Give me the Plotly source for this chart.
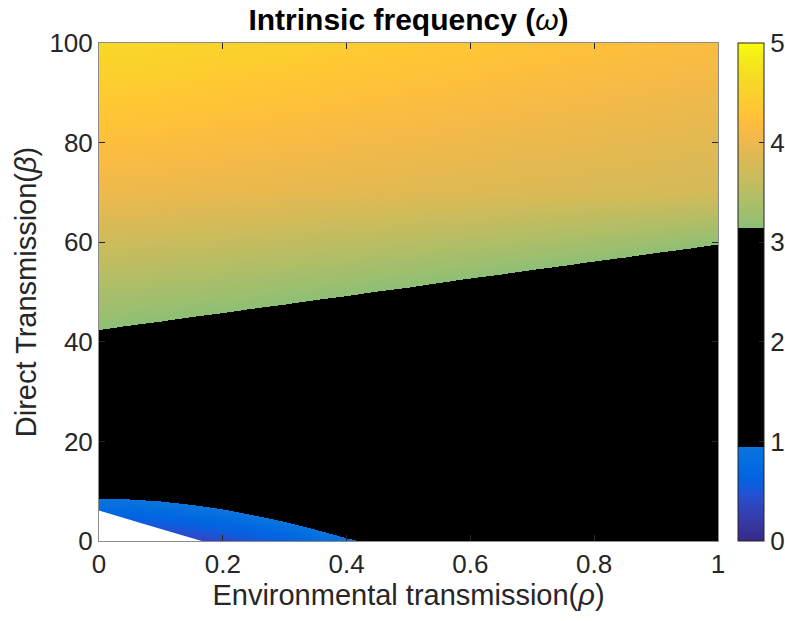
import numpy as np
import plotly.graph_objects as go

# ---------------- data ----------------
rho = [0.00, 0.05, 0.10, 0.15, 0.20, 0.25, 0.30, 0.35, 0.40, 0.45, 0.50,
       0.55, 0.60, 0.65, 0.70, 0.75, 0.80, 0.85, 0.90, 0.95, 1.00]
# beta where the black region meets the coloured upper region (omega ~ 3.14)
beta_green_edge = [42.5, 43.4, 44.2, 45.1, 45.9, 46.8, 47.6, 48.5, 49.3, 50.2, 51.0,
                   51.9, 52.8, 53.6, 54.5, 55.3, 56.2, 57.0, 57.9, 58.7, 59.6]
omega_at_70 = [4.02, 4.01, 4.00, 3.98, 3.97, 3.96, 3.94, 3.93, 3.91, 3.90, 3.89,
               3.87, 3.86, 3.84, 3.83, 3.82, 3.80, 3.79, 3.78, 3.76, 3.75]
omega_top = [4.60, 4.58, 4.56, 4.53, 4.51, 4.49, 4.47, 4.45, 4.42, 4.40, 4.38,
             4.36, 4.34, 4.31, 4.29, 4.27, 4.25, 4.23, 4.20, 4.18, 4.16]
# beta where the blue band meets the black region (omega ~ 0.94); None = no blue
beta_blue_edge = [8.6, 8.4, 8.0, 7.3, 6.4, 5.2, 3.9, 2.3, 0.6, -0.8, None,
                  None, None, None, None, None, None, None, None, None, None]
blue_gradient = 0.085
# omega inside the black region (not visible, any value between the band limits)
omega_black_fill = 2.0
# white (undefined) corner boundary
white_rho = [0.0, 0.0, 0.074, 0.166, 0.0]
white_beta = [0.0, 6.1, 3.35, 0.0, 0.0]
# sample rows in beta
beta_rows = [0, 1, 2, 3, 4, 5, 6, 7, 8, 9, 10, 20, 30, 40, 50, 60, 70, 80, 90, 100]
omega_black_low = 0.94   # colour bar: black band starts
omega_black_high = 3.14  # colour bar: black band ends
cbar_ticks = [0, 1, 2, 3, 4, 5]
x_ticks = [0, 0.2, 0.4, 0.6, 0.8, 1]
x_ticktext = ["0", "0.2", "0.4", "0.6", "0.8", "1"]
y_ticks = [0, 20, 40, 60, 80, 100]

# ---------------- table built from the read values ----------------
z = []
for b in beta_rows:
    row = []
    for j in range(len(rho)):
        g = beta_green_edge[j]
        w70 = omega_at_70[j]
        if b <= 70:
            up = omega_black_high + (b - g) * (w70 - omega_black_high) / (70 - g)
        else:
            up = w70 + (b - 70) * (omega_top[j] - w70) / 30.0
        if b < g:
            up = max(up, omega_black_fill)
        val = up
        if beta_blue_edge[j] is not None:
            bl = omega_black_low + (b - beta_blue_edge[j]) * blue_gradient
            val = min(up, bl)
        row.append(val)
    z.append(row)

# ---------------- parula colormap with black band ----------------
PARULA = [
    [0.2081, 0.1663, 0.5292], [0.2116, 0.1898, 0.5777], [0.2123, 0.2138, 0.6270], [0.2081, 0.2386, 0.6771],
    [0.1959, 0.2645, 0.7279], [0.1707, 0.2919, 0.7792], [0.1253, 0.3242, 0.8303], [0.0591, 0.3598, 0.8683],
    [0.0117, 0.3875, 0.8820], [0.0060, 0.4086, 0.8828], [0.0165, 0.4266, 0.8786], [0.0329, 0.4430, 0.8720],
    [0.0498, 0.4586, 0.8641], [0.0629, 0.4737, 0.8554], [0.0723, 0.4887, 0.8467], [0.0779, 0.5040, 0.8384],
    [0.0793, 0.5200, 0.8312], [0.0749, 0.5375, 0.8263], [0.0641, 0.5570, 0.8240], [0.0488, 0.5772, 0.8228],
    [0.0343, 0.5966, 0.8199], [0.0265, 0.6137, 0.8135], [0.0239, 0.6287, 0.8038], [0.0231, 0.6418, 0.7913],
    [0.0228, 0.6535, 0.7768], [0.0267, 0.6642, 0.7607], [0.0384, 0.6743, 0.7436], [0.0590, 0.6838, 0.7254],
    [0.0843, 0.6928, 0.7062], [0.1133, 0.7015, 0.6859], [0.1453, 0.7098, 0.6646], [0.1801, 0.7177, 0.6424],
    [0.2178, 0.7250, 0.6193], [0.2586, 0.7317, 0.5954], [0.3022, 0.7376, 0.5712], [0.3482, 0.7424, 0.5473],
    [0.3953, 0.7459, 0.5244], [0.4420, 0.7481, 0.5033], [0.4871, 0.7491, 0.4840], [0.5300, 0.7491, 0.4661],
    [0.5709, 0.7485, 0.4494], [0.6099, 0.7473, 0.4337], [0.6473, 0.7456, 0.4188], [0.6834, 0.7435, 0.4044],
    [0.7184, 0.7411, 0.3905], [0.7525, 0.7384, 0.3768], [0.7858, 0.7356, 0.3633], [0.8185, 0.7327, 0.3498],
    [0.8507, 0.7299, 0.3360], [0.8824, 0.7274, 0.3217], [0.9139, 0.7258, 0.3063], [0.9450, 0.7261, 0.2886],
    [0.9739, 0.7314, 0.2666], [0.9938, 0.7455, 0.2403], [0.9990, 0.7653, 0.2164], [0.9955, 0.7861, 0.1967],
    [0.9880, 0.8066, 0.1794], [0.9789, 0.8271, 0.1633], [0.9697, 0.8481, 0.1475], [0.9626, 0.8705, 0.1309],
    [0.9589, 0.8949, 0.1132], [0.9598, 0.9218, 0.0948], [0.9661, 0.9514, 0.0755], [0.9763, 0.9831, 0.0538],
]
P = np.array(PARULA)
pos = np.linspace(0, 1, len(PARULA))


def pcol(t):
    c = [np.interp(t, pos, P[:, k]) for k in range(3)]
    return "rgb(%d,%d,%d)" % tuple(int(round(255 * v)) for v in c)


zmin, zmax = 0, 5
tb = (omega_black_low - zmin) / (zmax - zmin)
tg = (omega_black_high - zmin) / (zmax - zmin)
cs = []
for t in pos:
    if t < tb:
        cs.append([float(t), pcol(t)])
cs.append([tb, pcol(tb)])
cs.append([tb, "rgb(0,0,0)"])
cs.append([tg, "rgb(0,0,0)"])
cs.append([tg, pcol(tg)])
for t in pos:
    if t > tg:
        cs.append([float(t), pcol(t)])

FONT = "Liberation Sans, Arial, Helvetica, sans-serif"
TXT = "#262626"

fig = go.Figure()
fig.add_trace(go.Heatmap(
    x=rho, y=beta_rows, z=z, zmin=zmin, zmax=zmax, zsmooth="best",
    colorscale=cs, hoverinfo="skip",
    colorbar=dict(
        thickness=26, len=1, lenmode="fraction", y=0.5, yanchor="middle", ypad=0,
        x=738 / 785, xref="container", xanchor="left", xpad=0,
        outlinewidth=1, outlinecolor=TXT,
        tickvals=cbar_ticks, ticks="inside", ticklen=5, tickcolor=TXT,
        tickfont=dict(family=FONT, size=26, color=TXT),
    ),
))
fig.add_trace(go.Scatter(
    x=white_rho, y=white_beta, mode="lines", fill="toself",
    fillcolor="white", line=dict(width=0, color="white"), hoverinfo="skip",
    showlegend=False,
))

axis_common = dict(
    showline=True, linecolor="#8c8c8c", linewidth=1, mirror="ticks",
    ticks="inside", ticklen=6, tickwidth=1, tickcolor=TXT,
    showgrid=False, zeroline=False,
    tickfont=dict(family=FONT, size=26, color=TXT),
)
fig.update_layout(
    width=785, height=621,
    margin=dict(l=99, r=67, t=43, b=80),
    paper_bgcolor="white", plot_bgcolor="white",
    showlegend=False,
    title=dict(
        text="<b>Intrinsic frequency (</b><i>ω</i><b>)</b>",
        x=0.5, xref="paper", xanchor="center",
        y=1 - 19 / 621, yref="container", yanchor="middle",
        font=dict(family=FONT, size=30, color="black"),
    ),
    xaxis=dict(
        range=[0, 1], tickvals=x_ticks, ticktext=x_ticktext,
        title=dict(text="Environmental transmission(<i>ρ</i>)", standoff=6,
                   font=dict(family=FONT, size=29, color=TXT)),
        **axis_common,
    ),
    yaxis=dict(
        range=[0, 100], tickvals=y_ticks,
        title=dict(text="Direct Transmission(<i>β</i>)", standoff=4,
                   font=dict(family=FONT, size=29, color=TXT)),
        **axis_common,
    ),
)

fig.write_html("out.html")
